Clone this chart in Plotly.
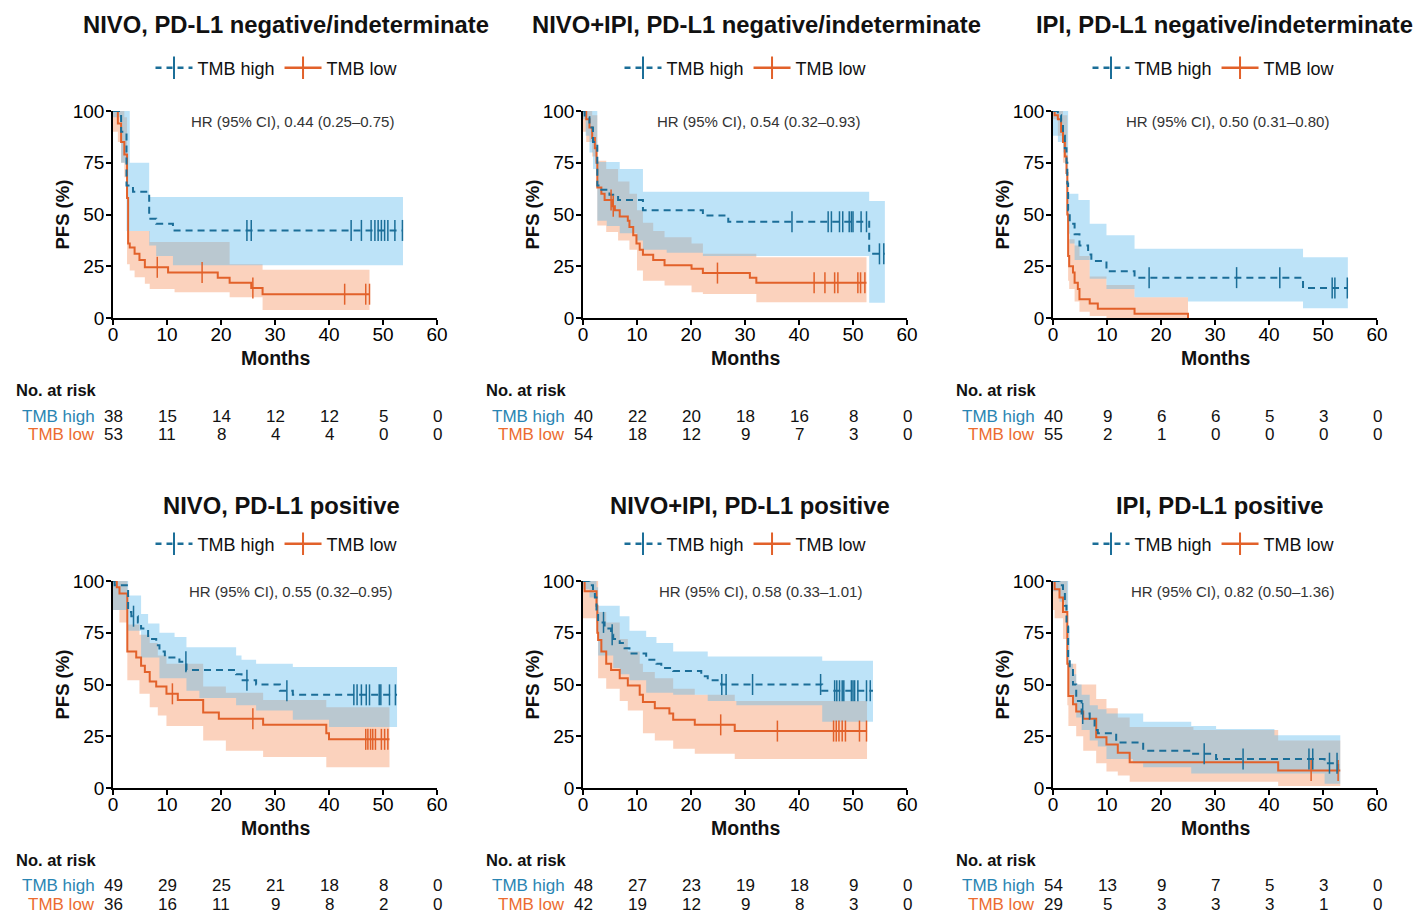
import plotly.graph_objects as go

# ------------------------------------------------------------------ data
titles = ["NIVO, PD-L1 negative/indeterminate", "NIVO+IPI, PD-L1 negative/indeterminate",
          "IPI, PD-L1 negative/indeterminate", "NIVO, PD-L1 positive",
          "NIVO+IPI, PD-L1 positive", "IPI, PD-L1 positive"]
hr_texts = ["HR (95% CI), 0.44 (0.25–0.75)", "HR (95% CI), 0.54 (0.32–0.93)",
            "HR (95% CI), 0.50 (0.31–0.80)", "HR (95% CI), 0.55 (0.32–0.95)",
            "HR (95% CI), 0.58 (0.33–1.01)", "HR (95% CI), 0.82 (0.50–1.36)"]
month_ticks = [0, 10, 20, 30, 40, 50, 60]
pfs_ticks = [0, 25, 50, 75, 100]

# Panel 1
p1_hi_t = [0, 1.5, 2.5, 3.7, 6.7, 8.0, 11.1, 53.7]
p1_hi_s = [100, 90, 64, 61, 48, 45.5, 42.3, 42.3]
p1_hi_cens = [24.8, 25.6, 44.1, 46.0, 47.8, 48.5, 49.1, 49.7, 50.3, 50.9, 52.2, 53.6]
p1_hi_ci_t = [0, 1.5, 2.5, 3.1, 6.7, 8.0, 11.1, 53.7]
p1_hi_ci_lo = [97, 75, 42, 42, 35, 30, 25.5, 25.5]
p1_hi_ci_up = [100, 100, 100, 75, 58.5, 58.5, 58.5, 58.5]
p1_lo_t = [0, 0.9, 1.5, 2.1, 2.6, 2.8, 3.1, 4.0, 4.9, 5.9, 10.2, 19.4, 21.6, 25.6, 27.7, 47.5]
p1_lo_s = [100, 94, 85, 79, 58, 36, 34, 31, 28, 24.5, 22, 19.5, 17, 14.5, 11.5, 11.5]
p1_lo_cens = [8.2, 16.5, 25.9, 42.9, 46.8, 47.5]
p1_lo_ci_t = [0, 0.9, 1.5, 2.1, 2.6, 3.1, 4.0, 5.9, 6.8, 11.4, 21.6, 27.7, 47.5]
p1_lo_ci_lo = [90, 85, 75, 68, 26, 23, 19.7, 16.5, 14, 12.4, 10, 3.9, 3.9]
p1_lo_ci_up = [100, 100, 100, 97, 42, 42, 42, 42, 36.7, 36.7, 26, 23.3, 23.3]
p1_risk_hi = [38, 15, 14, 12, 12, 5, 0]
p1_risk_lo = [53, 11, 8, 4, 4, 0, 0]

# Panel 2
p2_hi_t = [0, 0.3, 1.2, 1.85, 2.65, 3.4, 4.9, 6.5, 11.1, 22.2, 26.9, 53.0, 55.9]
p2_hi_s = [100, 97, 92, 85, 64, 62, 59.5, 57, 52, 49.5, 46.5, 31, 31]
p2_hi_cens = [38.7, 45.4, 46.0, 47.5, 48.1, 49.3, 49.7, 50.0, 51.5, 52.5, 54.9, 55.7]
p2_hi_ci_t = [0, 0.5, 1.2, 1.85, 2.65, 4.4, 6.8, 10.0, 11.1, 15.5, 22.2, 53.0, 55.9]
p2_hi_ci_lo = [96, 88, 80, 72, 47, 44.5, 41, 37.5, 33, 31.5, 30, 7.4, 7.4]
p2_hi_ci_up = [100, 100, 100, 100, 75.4, 75.4, 72, 72, 61, 61, 61, 56.5, 56.5]
p2_lo_t = [0, 0.6, 1.2, 1.7, 2.2, 2.5, 2.65, 3.4, 4.0, 5.4, 5.9, 6.8, 8.3, 8.6, 9.3, 9.9,
           10.5, 11.1, 13.0, 15.1, 20.1, 22.2, 30.9, 32.1, 52.5]
p2_lo_s = [100, 96, 92, 87, 82, 75, 63, 60, 57, 54, 52, 49, 47, 44, 40, 36,
           33, 30.5, 28, 25.5, 23.8, 21.7, 19.4, 17, 17]
p2_lo_cens = [5.2, 5.6, 24.9, 42.8, 44.8, 46.6, 47.2, 50.9, 51.4, 52.2]
p2_lo_ci_t = [0, 0.6, 1.7, 2.65, 4.3, 6.5, 8.6, 10.0, 11.1, 13.0, 15.1, 20.1, 22.2, 32.1, 52.5]
p2_lo_ci_lo = [90, 85, 78, 44.7, 41.5, 37.5, 33, 23, 18, 18, 15.7, 12.4, 11.6, 7.6, 7.6]
p2_lo_ci_up = [100, 100, 98, 76, 72, 66, 60, 52, 46, 42, 39, 36, 31, 29.4, 29.4]
p2_risk_hi = [40, 22, 20, 18, 16, 8, 0]
p2_risk_lo = [54, 18, 12, 9, 7, 3, 0]

# Panel 3
p3_hi_t = [0, 0.9, 1.5, 1.85, 2.2, 2.5, 2.65, 2.8, 3.1, 4.0, 4.9, 6.5, 7.1, 9.9, 15.1, 46.3, 54.6]
p3_hi_s = [100, 98, 95, 88, 82, 75, 65, 52, 45.5, 40.5, 35, 30.7, 27.5, 22.6, 19.5, 14.5, 14.5]
p3_hi_cens = [17.8, 34.0, 42.0, 51.7, 52.2, 54.5]
p3_hi_ci_t = [0, 0.9, 1.85, 2.5, 2.8, 3.1, 4.0, 4.7, 6.8, 9.9, 15.1, 25.0, 46.3, 54.6]
p3_hi_ci_lo = [88, 85, 80, 70, 40.7, 36, 28, 28, 19, 14, 10, 8, 4.7, 4.7]
p3_hi_ci_up = [100, 100, 100, 100, 60, 60, 60, 57, 45.5, 40, 33.4, 33.4, 29.4, 29.4]
p3_lo_t = [0, 0.3, 0.9, 1.5, 1.85, 2.2, 2.5, 2.65, 2.8, 3.0, 3.7, 4.0, 4.6, 4.9, 6.8, 8.3, 15.1, 25.0]
p3_lo_s = [100, 98, 96, 90, 85, 78, 70, 50, 30, 25, 22, 17, 14, 9, 7, 4.5, 2, 0]
p3_lo_cens = []
p3_lo_ci_t = [0, 0.9, 1.85, 2.65, 2.8, 3.0, 4.0, 4.9, 6.8, 9.9, 15.1, 25.0]
p3_lo_ci_lo = [96, 88, 75, 40, 18, 14, 8, 3, 1, 0, 0, 0]
p3_lo_ci_up = [100, 100, 98, 70, 45, 38, 35, 30, 20, 16, 10, 10]
p3_risk_hi = [40, 9, 6, 6, 5, 3, 0]
p3_risk_lo = [55, 2, 1, 0, 0, 0, 0]

# Panel 4
p4_hi_t = [0, 0.3, 2.8, 3.4, 4.6, 5.2, 6.5, 8.0, 8.6, 9.6, 12.3, 13.6, 22.8, 23.8, 26.5, 30.9, 33.3, 52.6]
p4_hi_s = [100, 98, 85, 83, 80, 77, 72, 69, 66, 63, 61, 57, 55, 52, 50, 47, 45, 45]
p4_hi_cens = [3.8, 13.5, 24.8, 32.2, 44.6, 45.2, 46.0, 46.9, 47.5, 49.3, 49.6, 51.2, 52.3]
p4_hi_ci_t = [0, 2.8, 5.2, 6.5, 8.6, 11.4, 13.6, 16.0, 22.8, 23.8, 26.5, 33.3, 40.0, 52.6]
p4_hi_ci_lo = [86, 76, 63, 63, 53, 53, 47, 43.5, 40, 40, 37.5, 33, 29.5, 29.5]
p4_hi_ci_up = [100, 93, 84, 79.5, 75, 73, 68, 68, 64, 62, 60, 58.5, 58.5, 58.5]
p4_lo_t = [0, 0.7, 1.2, 2.65, 4.3, 5.2, 5.9, 6.8, 8.0, 9.9, 12.0, 16.7, 19.6, 27.8, 39.5, 40.0, 51.2]
p4_lo_s = [100, 97, 94, 66, 63, 59, 56, 51.5, 49, 45.5, 42.5, 36.5, 33.5, 30.5, 26.5, 23.5, 23.5]
p4_lo_cens = [11.0, 25.9, 46.8, 47.2, 47.7, 48.1, 48.6, 49.7, 50.3, 50.9]
p4_lo_ci_t = [0, 0.7, 1.2, 2.65, 4.9, 6.8, 8.3, 9.9, 16.7, 20.9, 27.8, 39.5, 51.2]
p4_lo_ci_lo = [86, 86, 80, 52, 45.5, 39, 35, 30, 23, 18, 15, 10, 10]
p4_lo_ci_up = [100, 100, 100, 79, 74, 70, 64, 60, 49, 46, 42.5, 39, 39]
p4_risk_hi = [49, 29, 25, 21, 18, 8, 0]
p4_risk_lo = [36, 16, 11, 9, 8, 2, 0]

# Panel 5
p5_hi_t = [0, 1.2, 1.85, 2.2, 2.5, 2.8, 4.0, 5.2, 5.6, 6.8, 7.7, 8.6, 11.7, 13.6, 14.5, 16.7,
           21.9, 23.1, 25.6, 44.3, 53.7]
p5_hi_s = [100, 98, 95, 92, 85, 80, 77, 74, 72, 70, 67.5, 65, 62, 60, 58, 56.5,
           54, 52, 50, 47, 47]
p5_hi_cens = [3.8, 5.4, 25.7, 26.5, 31.4, 44.0, 46.6, 47.0, 47.5, 48.0, 48.3, 49.7, 50.0,
              50.3, 50.9, 52.5, 53.2]
p5_hi_ci_t = [0, 1.2, 2.5, 2.8, 5.6, 6.8, 8.6, 11.7, 13.6, 16.7, 23.1, 28.4, 44.3, 53.7]
p5_hi_ci_lo = [96, 92, 76, 64, 58, 55, 52, 46, 46, 45, 42, 40, 32, 32]
p5_hi_ci_up = [100, 100, 97, 88, 88, 83, 76, 73, 70, 66, 63.5, 63.5, 61.5, 61.5]
p5_lo_t = [0, 0.3, 2.5, 2.65, 2.8, 3.4, 4.3, 5.2, 6.8, 8.3, 10.5, 11.1, 13.3, 16.0, 16.7, 20.7, 28.1, 52.6]
p5_lo_s = [100, 95, 88, 75, 71.5, 66, 60, 57, 53, 49.5, 45, 41.5, 38.5, 36, 33, 30.5, 27.5, 27.5]
p5_lo_cens = [25.5, 36.0, 46.4, 46.9, 47.4, 48.0, 48.6, 51.2, 52.5]
p5_lo_ci_t = [0, 0.3, 2.5, 2.8, 4.3, 6.8, 8.3, 10.5, 11.1, 13.3, 16.7, 20.7, 28.1, 52.6]
p5_lo_ci_lo = [82, 82, 80, 53, 48, 42, 37.5, 37.5, 26.5, 23, 19, 16.5, 14, 14]
p5_lo_ci_up = [100, 100, 100, 85, 80, 72, 66, 60, 56, 53, 48, 45, 42, 42]
p5_risk_hi = [48, 27, 23, 19, 18, 9, 0]
p5_risk_lo = [42, 19, 12, 9, 8, 3, 0]

# Panel 6
p6_hi_t = [0, 1.2, 1.85, 2.2, 2.5, 2.8, 3.1, 3.7, 4.3, 5.3, 6.8, 7.7, 8.3, 11.7, 16.7, 25.6,
           30.2, 50.3, 52.8, 53.2]
p6_hi_s = [100, 98, 95, 88, 78, 62, 57, 50, 42, 36, 33.5, 28, 26.5, 22, 18, 16.5,
           14, 12, 8.4, 8.4]
p6_hi_cens = [5.5, 28.0, 35.2, 47.4, 48.1, 51.2, 52.6]
p6_hi_ci_t = [0, 1.2, 2.2, 2.8, 3.1, 3.7, 4.3, 5.3, 6.8, 8.3, 9.9, 14.8, 16.7, 25.6, 30.2, 41.0, 50.3, 53.2]
p6_hi_ci_lo = [95, 90, 85, 60, 45, 40, 34, 28, 23, 20, 14, 12, 10, 7, 7, 7, 2, 2]
p6_hi_ci_up = [100, 100, 100, 78, 60, 55, 50, 45, 40, 38, 36, 36, 32, 30, 28.5, 25.5, 25.5, 25.5]
p6_lo_t = [0, 0.3, 1.2, 1.85, 2.65, 2.85, 3.7, 4.3, 5.6, 8.0, 9.9, 12.0, 14.2, 41.7, 53.2]
p6_lo_s = [100, 96, 92, 85, 60, 44.5, 40.5, 37, 33.5, 24.5, 21, 17, 12.5, 8.5, 8.5]
p6_lo_cens = [47.8, 52.8]
p6_lo_ci_t = [0, 0.3, 1.85, 2.65, 2.85, 4.3, 5.6, 8.0, 9.9, 12.0, 14.2, 26.0, 41.7, 53.2]
p6_lo_ci_lo = [86, 82, 72, 40, 30, 25, 18, 12, 8, 6, 3, 3, 1, 1]
p6_lo_ci_up = [100, 100, 100, 78, 60, 50, 50, 43, 38.5, 34, 29.5, 28, 23, 23]
p6_risk_hi = [54, 13, 9, 7, 5, 3, 0]
p6_risk_lo = [29, 5, 3, 3, 3, 1, 0]

panels = [
    dict(hi_t=p1_hi_t, hi_s=p1_hi_s, hi_c=p1_hi_cens, hi_ct=p1_hi_ci_t, hi_cl=p1_hi_ci_lo, hi_cu=p1_hi_ci_up,
         lo_t=p1_lo_t, lo_s=p1_lo_s, lo_c=p1_lo_cens, lo_ct=p1_lo_ci_t, lo_cl=p1_lo_ci_lo, lo_cu=p1_lo_ci_up,
         rh=p1_risk_hi, rl=p1_risk_lo),
    dict(hi_t=p2_hi_t, hi_s=p2_hi_s, hi_c=p2_hi_cens, hi_ct=p2_hi_ci_t, hi_cl=p2_hi_ci_lo, hi_cu=p2_hi_ci_up,
         lo_t=p2_lo_t, lo_s=p2_lo_s, lo_c=p2_lo_cens, lo_ct=p2_lo_ci_t, lo_cl=p2_lo_ci_lo, lo_cu=p2_lo_ci_up,
         rh=p2_risk_hi, rl=p2_risk_lo),
    dict(hi_t=p3_hi_t, hi_s=p3_hi_s, hi_c=p3_hi_cens, hi_ct=p3_hi_ci_t, hi_cl=p3_hi_ci_lo, hi_cu=p3_hi_ci_up,
         lo_t=p3_lo_t, lo_s=p3_lo_s, lo_c=p3_lo_cens, lo_ct=p3_lo_ci_t, lo_cl=p3_lo_ci_lo, lo_cu=p3_lo_ci_up,
         rh=p3_risk_hi, rl=p3_risk_lo),
    dict(hi_t=p4_hi_t, hi_s=p4_hi_s, hi_c=p4_hi_cens, hi_ct=p4_hi_ci_t, hi_cl=p4_hi_ci_lo, hi_cu=p4_hi_ci_up,
         lo_t=p4_lo_t, lo_s=p4_lo_s, lo_c=p4_lo_cens, lo_ct=p4_lo_ci_t, lo_cl=p4_lo_ci_lo, lo_cu=p4_lo_ci_up,
         rh=p4_risk_hi, rl=p4_risk_lo),
    dict(hi_t=p5_hi_t, hi_s=p5_hi_s, hi_c=p5_hi_cens, hi_ct=p5_hi_ci_t, hi_cl=p5_hi_ci_lo, hi_cu=p5_hi_ci_up,
         lo_t=p5_lo_t, lo_s=p5_lo_s, lo_c=p5_lo_cens, lo_ct=p5_lo_ci_t, lo_cl=p5_lo_ci_lo, lo_cu=p5_lo_ci_up,
         rh=p5_risk_hi, rl=p5_risk_lo),
    dict(hi_t=p6_hi_t, hi_s=p6_hi_s, hi_c=p6_hi_cens, hi_ct=p6_hi_ci_t, hi_cl=p6_hi_ci_lo, hi_cu=p6_hi_ci_up,
         lo_t=p6_lo_t, lo_s=p6_lo_s, lo_c=p6_lo_cens, lo_ct=p6_lo_ci_t, lo_cl=p6_lo_ci_lo, lo_cu=p6_lo_ci_up,
         rh=p6_risk_hi, rl=p6_risk_lo),
]

# ------------------------------------------------------------------ style / layout
W, H = 1418, 914
FONT = "Liberation Sans, Arial, Helvetica, sans-serif"
BLUE = "#1b6e98"
ORANGE = "#e2612a"
BLUE_TXT = "#2a85b3"
ORANGE_TXT = "#ec6c30"
BLUE_FILL = "rgba(90,185,238,0.40)"
ORANGE_FILL = "rgba(243,130,72,0.36)"
DASH = "7px,5px"

col_left = [113, 583, 1053]
plot_w = 324
row_top = [111, 581]
plot_h = 207
title_cx = [[286, 757, 1224], [281, 750, 1220]]
title_y = [24, 505]
legend_cx = [277, 746, 1214]
legend_y = [68, 544]
hr_cx = [[292, 759, 1227], [290, 760, 1232]]
hr_y = [121, 591]
months_y = [358, 828]
pfs_x_off = 51
risk_head_y = [390, 860]
risk_hi_y = [416, 885]
risk_lo_y = [435, 904]


def px(x):
    return x / W


def py(y):
    return 1 - y / H


def step_at(ts, ss, t):
    v = ss[0]
    for ti, si in zip(ts, ss):
        if ti <= t:
            v = si
    return v


fig = go.Figure()
annotations = []
layout_extra = {}

for i, p in enumerate(panels):
    r, c = divmod(i, 3)
    n = i + 1
    xa = "x" if n == 1 else f"x{n}"
    ya = "y" if n == 1 else f"y{n}"
    leg = "legend" if n == 1 else f"legend{n}"
    common = dict(xaxis=xa, yaxis=ya, hoverinfo="skip")

    # confidence bands (orange first, blue on top)
    fig.add_trace(go.Scatter(x=p["lo_ct"], y=p["lo_cl"], mode="lines", line=dict(width=0, shape="hv"),
                             showlegend=False, **common))
    fig.add_trace(go.Scatter(x=p["lo_ct"], y=p["lo_cu"], mode="lines", line=dict(width=0, shape="hv"),
                             fill="tonexty", fillcolor=ORANGE_FILL, showlegend=False, **common))
    fig.add_trace(go.Scatter(x=p["hi_ct"], y=p["hi_cl"], mode="lines", line=dict(width=0, shape="hv"),
                             showlegend=False, **common))
    fig.add_trace(go.Scatter(x=p["hi_ct"], y=p["hi_cu"], mode="lines", line=dict(width=0, shape="hv"),
                             fill="tonexty", fillcolor=BLUE_FILL, showlegend=False, **common))

    # survival curves
    fig.add_trace(go.Scatter(x=p["lo_t"], y=p["lo_s"], mode="lines",
                             line=dict(color=ORANGE, width=2, shape="hv"), showlegend=False, **common))
    fig.add_trace(go.Scatter(x=p["hi_t"], y=p["hi_s"], mode="lines",
                             line=dict(color=BLUE, width=2, shape="hv", dash=DASH), showlegend=False, **common))

    # censor marks
    if p["lo_c"]:
        fig.add_trace(go.Scatter(x=p["lo_c"], y=[step_at(p["lo_t"], p["lo_s"], t) for t in p["lo_c"]],
                                 mode="markers", cliponaxis=False,
                                 marker=dict(symbol="line-ns", size=15, line=dict(color=ORANGE, width=1.5)),
                                 showlegend=False, **common))
    fig.add_trace(go.Scatter(x=p["hi_c"], y=[step_at(p["hi_t"], p["hi_s"], t) for t in p["hi_c"]],
                             mode="markers", cliponaxis=False,
                             marker=dict(symbol="line-ns", size=15, line=dict(color=BLUE, width=1.5)),
                             showlegend=False, **common))

    # legend entries
    fig.add_trace(go.Scatter(x=[None], y=[None], mode="lines+markers", name="TMB high", legend=leg,
                             line=dict(color=BLUE, width=2.5, dash="6px,5px"),
                             marker=dict(symbol="line-ns", size=16, line=dict(color=BLUE, width=2)), **common))
    fig.add_trace(go.Scatter(x=[None], y=[None], mode="lines+markers", name="TMB low", legend=leg,
                             line=dict(color=ORANGE, width=2.5),
                             marker=dict(symbol="line-ns", size=16, line=dict(color=ORANGE, width=2)), **common))

    x0 = col_left[c]
    ytop = row_top[r]
    axis_common = dict(showline=True, linecolor="black", linewidth=1.5, ticks="outside", ticklen=5,
                       tickwidth=1.5, tickcolor="black", showgrid=False, zeroline=False,
                       tickfont=dict(family=FONT, size=19, color="black"), fixedrange=True,
                       automargin=False)
    layout_extra["xaxis" if n == 1 else f"xaxis{n}"] = dict(
        domain=[px(x0), px(x0 + plot_w)], range=[0, 60], tickvals=month_ticks,
        anchor=ya, ticklabelstandoff=-7, **axis_common)
    layout_extra["yaxis" if n == 1 else f"yaxis{n}"] = dict(
        domain=[py(ytop + plot_h), py(ytop)], range=[0, 100], tickvals=pfs_ticks,
        anchor=xa, ticklabelstandoff=-2, **axis_common)
    layout_extra[leg] = dict(orientation="h", x=px(legend_cx[c]), xanchor="center",
                             y=py(legend_y[r]), yanchor="middle", bgcolor="rgba(0,0,0,0)",
                             font=dict(family=FONT, size=18, color="#111"), itemwidth=37,
                             traceorder="normal")

    # texts
    annotations.append(dict(text=f"<b>{titles[i]}</b>", x=px(title_cx[r][c]), y=py(title_y[r]),
                            xref="paper", yref="paper", showarrow=False, xanchor="center", yanchor="middle",
                            font=dict(family=FONT, size=23.8, color="#111")))
    annotations.append(dict(text=hr_texts[i], x=px(hr_cx[r][c]), y=py(hr_y[r]),
                            xref="paper", yref="paper", showarrow=False, xanchor="center", yanchor="middle",
                            font=dict(family=FONT, size=15, color="#333")))
    annotations.append(dict(text="<b>Months</b>", x=px(x0 + plot_w / 2), y=py(months_y[r]),
                            xref="paper", yref="paper", showarrow=False, xanchor="center", yanchor="middle",
                            font=dict(family=FONT, size=19.5, color="#111")))
    annotations.append(dict(text="<b>PFS (%)</b>", x=px(x0 - pfs_x_off), y=py(ytop + plot_h / 2),
                            xref="paper", yref="paper", showarrow=False, xanchor="center", yanchor="middle",
                            textangle=-90, font=dict(family=FONT, size=18.5, color="#111")))
    # risk table
    annotations.append(dict(text="<b>No. at risk</b>", x=px(x0 - 99), y=py(risk_head_y[r]),
                            xref="paper", yref="paper", showarrow=False, xanchor="left", yanchor="middle",
                            font=dict(family=FONT, size=16.5, color="#111")))
    annotations.append(dict(text="TMB high", x=px(x0 - 16), y=py(risk_hi_y[r]),
                            xref="paper", yref="paper", showarrow=False, xanchor="right", yanchor="middle",
                            font=dict(family=FONT, size=17, color=BLUE_TXT)))
    annotations.append(dict(text="TMB low", x=px(x0 - 16), y=py(risk_lo_y[r]),
                            xref="paper", yref="paper", showarrow=False, xanchor="right", yanchor="middle",
                            font=dict(family=FONT, size=17, color=ORANGE_TXT)))
    for t, vh, vl in zip(month_ticks, p["rh"], p["rl"]):
        annotations.append(dict(text=str(vh), x=t, y=py(risk_hi_y[r]), xref=xa, yref="paper",
                                showarrow=False, xanchor="center", yanchor="middle",
                                font=dict(family=FONT, size=17, color="#111")))
        annotations.append(dict(text=str(vl), x=t, y=py(risk_lo_y[r]), xref=xa, yref="paper",
                                showarrow=False, xanchor="center", yanchor="middle",
                                font=dict(family=FONT, size=17, color="#111")))

fig.update_layout(width=W, height=H, autosize=False,
                  margin=dict(l=0, r=0, t=0, b=0, pad=0, autoexpand=False),
                  paper_bgcolor="white", plot_bgcolor="rgba(0,0,0,0)",
                  font=dict(family=FONT, color="#111"), annotations=annotations,
                  hovermode=False, **layout_extra)

fig.write_html("out.html", config=dict(displayModeBar=False),
               post_script="document.body.style.margin='0';document.body.style.overflow='hidden';")
